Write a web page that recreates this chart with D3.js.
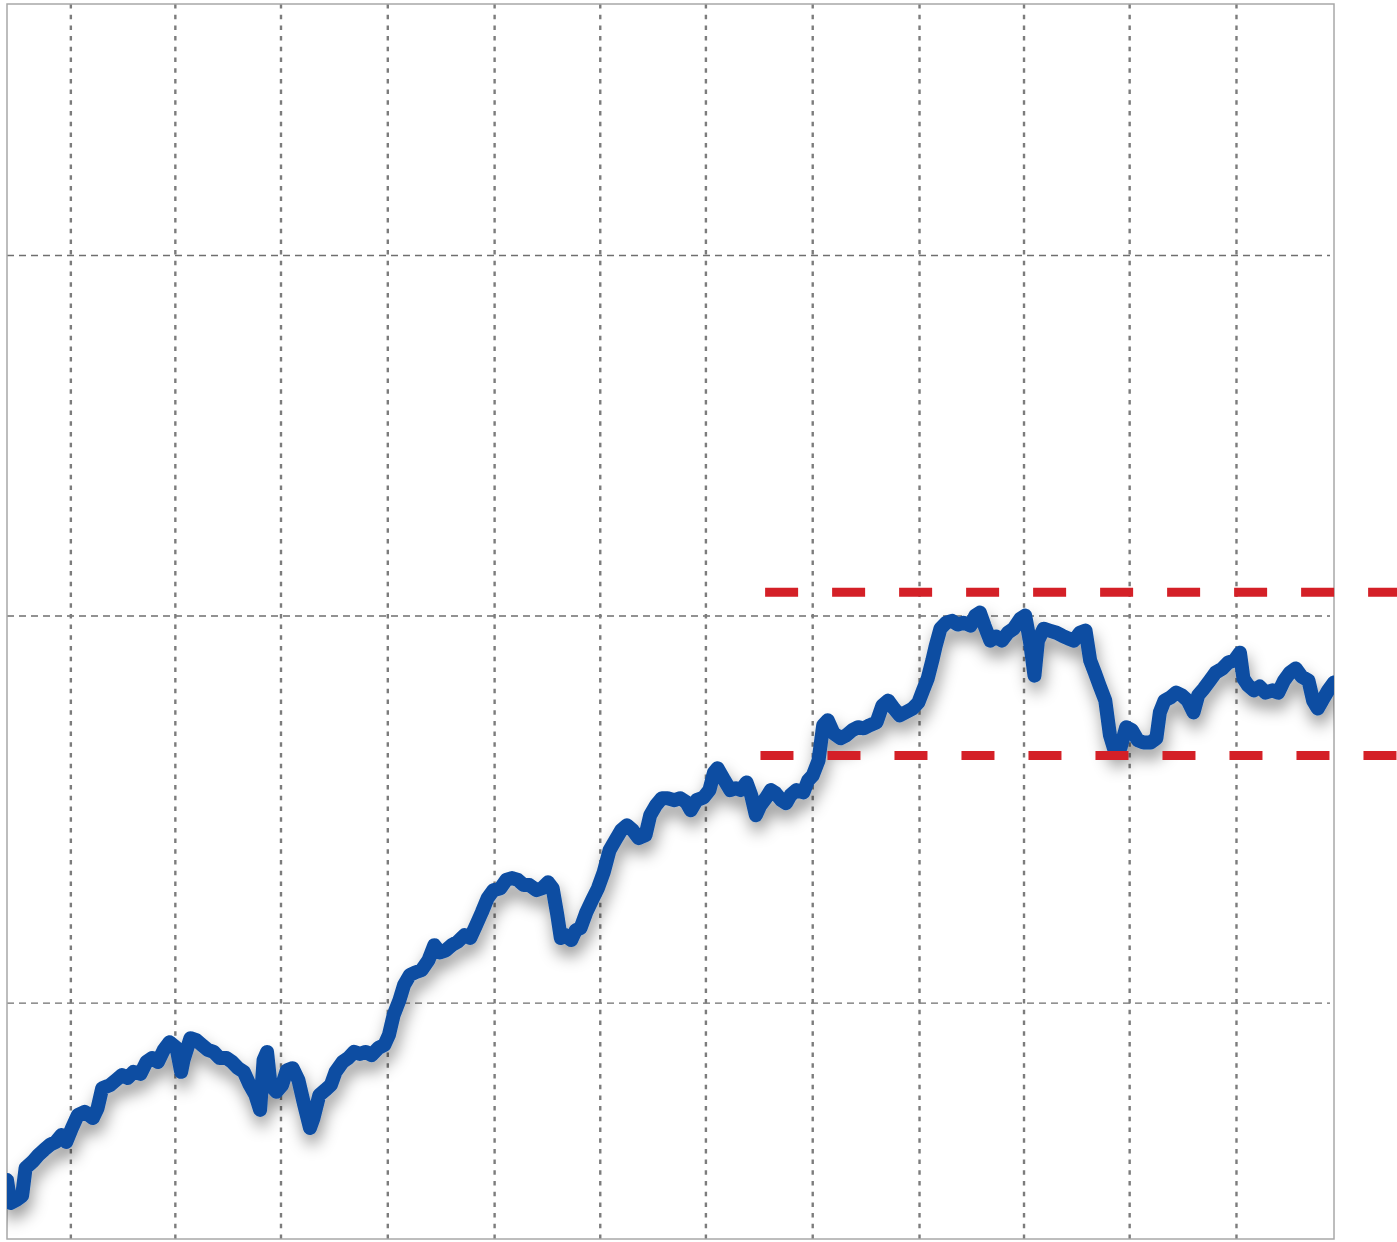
<!DOCTYPE html>
<html>
<head>
<meta charset="utf-8">
<script src="https://cdn.jsdelivr.net/npm/d3@7"></script>
<style>
    body { margin: 0; background: #fff; }
    svg { display: block; }
</style>
</head>
<body>
<div id="chart"></div>
<script>
// series start date, then day offsets of each point and the index value at that point
const startDate = new Date(2014, 10, 7);
const endDate = new Date(2017, 11, 24);

const dayOffsets = [
    0, 3, 8, 13, 16, 22, 27, 32, 37, 42, 47, 51, 56, 61, 67, 74, 78, 82, 89, 94,
    99, 104, 109, 115, 120, 125, 130, 135, 140, 146, 150, 152, 158, 163, 168, 173, 178, 183, 189, 194,
    199, 204, 209, 214, 218, 221, 224, 227, 232, 237, 241, 246, 251, 256, 261, 264, 269, 274, 279, 283,
    289, 294, 299, 304, 309, 314, 320, 325, 329, 333, 338, 342, 347, 352, 357, 363, 368, 373, 378, 383,
    388, 394, 399, 404, 409, 414, 419, 425, 430, 435, 440, 445, 450, 456, 461, 466, 470, 474, 477, 481,
    486, 490, 494, 499, 504, 509, 514, 519, 524, 529, 534, 539, 544, 550, 554, 559, 564, 569, 575, 580,
    585, 589, 594, 600, 605, 609, 612, 618, 623, 628, 632, 637, 641, 645, 649, 654, 658, 662, 667, 671,
    675, 680, 686, 690, 694, 699, 703, 707, 712, 718, 723, 728, 733, 738, 743, 749, 754, 759, 764, 769,
    774, 780, 785, 789, 793, 797, 800, 804, 809, 814, 819, 824, 830, 834, 838, 842, 847, 852, 857, 862,
    867, 873, 877, 881, 885, 888, 893, 898, 904, 909, 914, 919, 924, 929, 933, 937, 941, 946, 950, 954,
    959, 964, 969, 974, 979, 985, 990, 993, 997, 1002, 1007, 1012, 1017, 1022, 1026, 1031, 1036, 1041, 1047, 1052,
    1057, 1062, 1065, 1069, 1074, 1079, 1084, 1090, 1095, 1100, 1105, 1110, 1115, 1121, 1125, 1129, 1134, 1138, 1143
];

const indexValues = [
    1256.7, 1251.2, 1251.9, 1252.9, 1259.6, 1261.1, 1262.7, 1264.0, 1265.2, 1265.9, 1267.6, 1265.9, 1269.3, 1272.4, 1273.2, 1271.7, 1274.1, 1279.0, 1279.8, 1281.0,
    1282.2, 1281.5, 1283.0, 1282.5, 1285.4, 1286.4, 1285.4, 1288.4, 1290.3, 1288.9, 1283.0, 1285.9, 1291.3, 1290.8, 1289.6, 1288.4, 1287.9, 1286.4, 1286.4, 1285.4,
    1283.9, 1283.0, 1279.8, 1277.3, 1273.7, 1285.9, 1287.9, 1279.8, 1278.1, 1279.8, 1283.4, 1283.9, 1281.0, 1274.9, 1269.3, 1271.7, 1277.3, 1278.5, 1279.8, 1283.0,
    1285.4, 1286.4, 1287.9, 1287.4, 1287.9, 1287.1, 1288.9, 1289.6, 1292.1, 1297.0, 1300.7, 1304.5, 1307.0, 1307.7, 1308.2, 1310.7, 1314.5, 1312.7, 1313.2, 1314.5,
    1315.3, 1317.0, 1316.3, 1319.5, 1322.8, 1326.4, 1328.4, 1328.9, 1331.0, 1331.5, 1331.0, 1329.7, 1329.7, 1328.4, 1328.9, 1330.4, 1328.9, 1322.1, 1316.3, 1317.0,
    1315.8, 1318.3, 1318.8, 1322.8, 1325.9, 1328.9, 1333.0, 1338.6, 1341.2, 1343.7, 1345.0, 1343.7, 1341.7, 1342.5, 1347.6, 1350.2, 1352.0, 1352.0, 1351.5, 1352.0,
    1351.0, 1348.9, 1351.5, 1352.2, 1354.1, 1358.7, 1359.8, 1356.6, 1354.1, 1354.6, 1354.1, 1356.1, 1352.8, 1347.6, 1350.2, 1352.2, 1354.1, 1353.3, 1351.5, 1350.7,
    1352.8, 1354.1, 1353.5, 1356.6, 1357.9, 1361.8, 1371.0, 1372.3, 1368.9, 1367.6, 1368.4, 1369.7, 1370.5, 1370.2, 1371.0, 1371.8, 1376.2, 1377.5, 1375.4, 1373.6,
    1374.4, 1375.4, 1377.0, 1380.2, 1383.3, 1388.1, 1392.1, 1396.6, 1398.2, 1398.7, 1397.7, 1398.2, 1397.4, 1400.1, 1400.9, 1397.4, 1393.4, 1394.5, 1393.4, 1395.5,
    1396.6, 1399.3, 1400.1, 1393.4, 1384.1, 1393.4, 1396.6, 1396.1, 1395.5, 1394.7, 1394.0, 1393.4, 1395.5, 1396.1, 1388.1, 1384.9, 1381.5, 1377.5, 1368.4, 1364.4,
    1365.0, 1370.5, 1369.7, 1367.1, 1366.5, 1366.5, 1367.6, 1374.4, 1377.5, 1378.3, 1379.6, 1378.9, 1377.5, 1374.4, 1378.9, 1380.7, 1382.8, 1384.9, 1386.0, 1387.6,
    1388.1, 1390.2, 1383.3, 1381.5, 1380.2, 1381.2, 1379.6, 1380.2, 1379.6, 1382.8, 1384.9, 1386.0, 1383.9, 1382.8, 1377.5, 1375.4, 1378.1, 1380.2, 1382.3
];

// gridlines
const xTickDates = [
    new Date(2015, 0, 1), new Date(2015, 3, 1), new Date(2015, 6, 1), new Date(2015, 9, 1),
    new Date(2016, 0, 1), new Date(2016, 3, 1), new Date(2016, 6, 1), new Date(2016, 9, 1),
    new Date(2017, 0, 1), new Date(2017, 3, 1), new Date(2017, 6, 1), new Date(2017, 9, 1)
];
const yTickValues = [1300, 1400, 1500];
const yDomain = [1242.6, 1574];

// red support / resistance levels
const levelValues = [1406.4, 1363.1];
const levelStarts = [new Date(2016, 7, 21), new Date(2016, 7, 17)];
const levelEnd = new Date(2018, 2, 1);

const margin = { top: 4, right: 63, bottom: 3, left: 7 };
const width = 1397 - margin.left - margin.right;
const height = 1242 - margin.top - margin.bottom;

const data = dayOffsets.map((d, i) => ({
    date: d3.timeDay.offset(startDate, d),
    value: indexValues[i]
}));

const x = d3.scaleTime()
    .domain([startDate, endDate])
    .range([0, width]);

const y = d3.scaleLog()
    .domain(yDomain)
    .range([height, 0]);

const svg = d3.select("#chart")
    .append("svg")
    .attr("width", width + margin.left + margin.right)
    .attr("height", height + margin.top + margin.bottom)
    .append("g")
    .attr("transform", `translate(${margin.left}, ${margin.top})`);

const defs = svg.append("defs");
const shadow = defs.append("filter")
    .attr("id", "shadow")
    .attr("x", "-10%").attr("y", "-10%")
    .attr("width", "120%").attr("height", "140%");
shadow.append("feDropShadow")
    .attr("dx", 2)
    .attr("dy", 10)
    .attr("stdDeviation", 8)
    .attr("flood-color", "#000")
    .attr("flood-opacity", 0.4);

defs.append("clipPath")
    .attr("id", "plot-clip")
    .append("rect")
    .attr("width", width)
    .attr("height", height);

// horizontal dashed grid
svg.selectAll(".hgrid")
    .data(yTickValues)
    .enter()
    .append("line")
    .attr("class", "hgrid")
    .attr("x1", 0)
    .attr("x2", width - 4)
    .attr("y1", d => y(d))
    .attr("y2", d => y(d))
    .attr("stroke", "#6f6f6f")
    .attr("stroke-width", 1.4)
    .attr("stroke-dasharray", "7,5");

// vertical dotted grid
svg.selectAll(".vgrid")
    .data(xTickDates)
    .enter()
    .append("line")
    .attr("class", "vgrid")
    .attr("x1", d => x(d))
    .attr("x2", d => x(d))
    .attr("y1", 0)
    .attr("y2", height)
    .attr("stroke", "#7c7c7c")
    .attr("stroke-width", 2.4)
    .attr("stroke-dasharray", "4.5,6.2");

// frame
svg.append("rect")
    .attr("width", width)
    .attr("height", height)
    .attr("fill", "none")
    .attr("stroke", "#a8a8a8")
    .attr("stroke-width", 1.5);

const line = d3.line()
    .x(d => x(d.date))
    .y(d => y(d.value));

svg.append("g")
    .attr("clip-path", "url(#plot-clip)")
    .append("path")
    .datum(data)
    .attr("d", line)
    .attr("fill", "none")
    .attr("stroke", "#0c4da2")
    .attr("stroke-width", 14)
    .attr("stroke-linejoin", "round")
    .attr("stroke-linecap", "round")
    .attr("filter", "url(#shadow)");

svg.selectAll(".level")
    .data(levelValues)
    .enter()
    .append("line")
    .attr("class", "level")
    .attr("x1", (d, i) => x(levelStarts[i]))
    .attr("x2", x(levelEnd))
    .attr("y1", d => y(d))
    .attr("y2", d => y(d))
    .attr("stroke", "#d42027")
    .attr("stroke-width", 9)
    .attr("stroke-dasharray", "33,34");
</script>
</body>
</html>
